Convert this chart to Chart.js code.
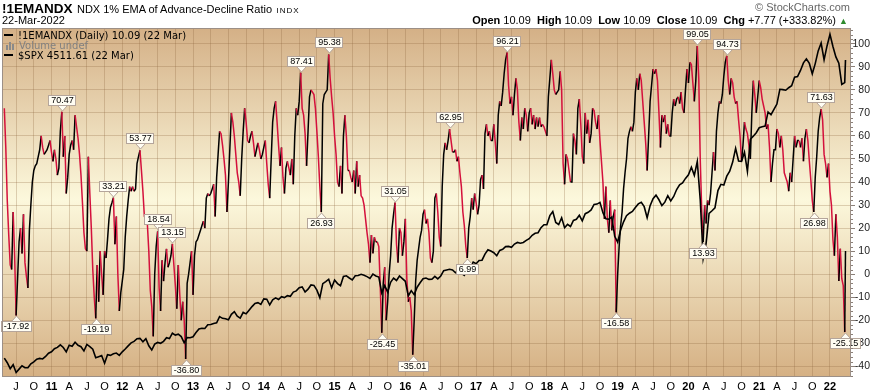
<!DOCTYPE html>
<html>
<head>
<meta charset="utf-8">
<script src="https://cdn.jsdelivr.net/npm/chart.js@4.4.1/dist/chart.umd.min.js"></script>
<style>
  body { margin: 0; background: #fff; }
  #wrap { position: relative; width: 876px; height: 392px; overflow: hidden; font-family: Arial, "Liberation Sans", sans-serif; }
  #chart { position: absolute; left: 0; top: 0; }
  .t { position: absolute; white-space: nowrap; color: #000; line-height: 1; }
  .lg { position: absolute; white-space: nowrap; font-family: "DejaVu Sans", Verdana, sans-serif; font-size: 10px; line-height: 10px; color: #000; }
  .dash { display: inline-block; width: 9px; height: 2px; background: #000; vertical-align: 3px; margin-right: 5px; }
  .vol { display: inline-block; width: 9px; height: 8px; margin-right: 4px; vertical-align: -1px; position: relative; }
  .vol i { position: absolute; bottom: 0; width: 2px; background: #8a8a8a; }
</style>
</head>
<body>
<div id="wrap">
  <canvas id="chart" width="876" height="392"></canvas>

  <div class="t" style="left:2px;top:0px"><b style="font-size:13.5px">!1EMANDX</b>&nbsp;<span style="font-size:11px">NDX 1% EMA of Advance-Decline Ratio</span>&nbsp;<span style="font-size:8px;letter-spacing:1px">INDX</span></div>
  <div class="t" style="left:2px;top:15px;font-size:11px">22-Mar-2022</div>
  <div class="t" style="right:26px;top:2px;font-size:11px;color:#666">&copy; StockCharts.com</div>
  <div class="t" style="right:28px;top:15px;font-size:11px"><b>Open</b> 10.09 &nbsp;<b>High</b> 10.09 &nbsp;<b>Low</b> 10.09 &nbsp;<b>Close</b> 10.09 &nbsp;<b>Chg</b> +7.77 (+333.82%) <span style="color:#2e8b2e;font-size:9px">&#9650;</span></div>

  <div class="lg" style="left:4px;top:31px"><span class="dash"></span>!1EMANDX (Daily) 10.09 (22 Mar)</div>
  <div class="lg" style="left:6px;top:41px;color:#808080"><span class="vol"><i style="left:0;height:5px"></i><i style="left:3px;height:8px"></i><i style="left:6px;height:6px"></i></span>Volume undef</div>
  <div class="lg" style="left:4px;top:51px"><span class="dash"></span>$SPX 4511.61 (22 Mar)</div>
</div>

<script>
// NDX 1% EMA of advance-decline ratio, 48 readings a year (about weekly)
// 2010 starts at slot 16 (1 May)
const ema2010 = [72, 55, 32, 17, 4, 2, 27, 8, -17.92, -2, 14, 20, 9, 26, 5, -1, -6, 19, 30, 40, 45, 47, 48, 51, 54, 60, 55, 52, 53, 54, 56, 58];
const ema2011 = [53, 49, 54, 50, 43, 46, 62, 70.47, 51, 60, 35, 42, 52, 56, 58, 54, 69, 64, 59, 52, 43, 31, 18, 11,
  10, 51, 35, 20, 2, -10, -19.19, 4, -12, 10, 0, -9, 10, 7, 15, 24, 29, 31, 33.21, 13, 25, 0, -16, -8];
const ema2012 = [-3, 2, 16, 25, 32, 38, 36, 38, 36, 37, 48, 51, 53.77, 45, 36, 25, 24, 22, 10, -7, -14, -27, 0, 12,
  18.54, -6, -16, 6, -3, 5, 11, 3, 5, 8, 13.15, 4, -5, -15, 4, -9, -20, -12, -20, -36.8, -4, 0, 5, 10];
const ema2013 = [-9, 8, 14, 15, 17, 19, 21, 23, 20, 33, 35, 34, 35, 37, 39, 25, 42, 52, 62, 61, 56, 50, 43, 27,
  40, 55, 70, 66, 60, 52, 44, 40, 34, 50, 62, 72, 66, 58, 57, 60, 62, 57, 51, 54, 57, 54, 50, 52];
const ema2014 = [55, 58, 48, 39, 33, 50, 66, 72, 75, 66, 56, 47, 55, 42, 35, 46, 49, 46, 43, 50, 39, 60, 72, 69,
  75, 87.41, 72, 69, 61, 47, 62, 77, 80, 79, 78, 72, 62, 51, 38, 26.93, 74, 78, 79, 80, 95.38, 85, 77, 70];
const ema2015 = [60, 52, 40, 38, 47, 35, 60, 69, 60, 45, 45, 42, 40, 45, 35, 49, 38, 43, 34, 33, 30, 24, 18, 13,
  5, 17, 9, 16, 14, 14, 12, -6, -25.45, -4, 3, -20, -12, 0, 8, 20, 26, 31.05, 13, 5, 20, 18, 8, 14];
const ema2016 = [24, -2, -12, -10, -16, -35.01, -20, -3, 6, 11, 16, 19, 26, 28, 22, 24, 18, 7, 5, 10, 33, 35, 27, 16,
  12, 38, 52, 57, 54, 58, 62.95, 58, 53, 53, 54, 49, 51, 44, 38, 27, 21, 12, 6.99, 20, 25, 33, 28, 35];
const ema2017 = [31, 26, 30, 41, 43, 37, 61, 65, 60, 62, 58, 58, 65, 57, 48, 69, 75, 73, 79, 87, 93, 96.21, 82, 74,
  77, 69, 78, 85, 80, 66, 58, 68, 63, 72, 69, 62, 70, 72, 65, 69, 63, 68, 64, 68, 64, 65, 64, 62];
const ema2018 = [60, 77, 85, 93, 87, 80, 78, 79, 80, 88, 80, 48, 39, 52, 50, 45, 40, 40, 61, 58, 52, 72, 76, 65,
  51, 48, 70, 61, 67, 57, 61, 72, 71, 66, 63, 69, 58, 49, 40, 24, 38, 24, 18, 32, 19, 25, 28, -16.58];
const ema2019 = [0, 12, 21, 27, 37, 44, 50, 59, 62, 64, 62, 66, 79, 85, 80, 87, 84, 75, 66, 57, 45, 60, 75, 82,
  89, 87, 89, 84, 70, 55, 69, 66, 69, 61, 65, 60, 60, 70, 76, 73, 76, 77, 74, 79, 72, 70, 80, 89];
const ema2020 = [83, 92, 91, 83, 75, 84, 99.05, 85, 50, 28, 13.93, 30, 22, 32, 30, 35, 44, 53, 45, 62, 70, 75, 74, 78,
  86, 92, 94.73, 84, 78, 85, 83, 77, 74, 75, 67, 60, 49, 56, 66, 63, 61, 56, 50, 70, 84, 78, 70, 77];
const ema2021 = [84, 81, 76, 73, 70, 63, 65, 55, 40, 48, 54, 54, 63, 61, 55, 60, 54, 44, 42, 40, 36, 44, 40, 50,
  60, 55, 58, 58, 55, 59, 49, 59, 63, 58, 49, 41, 32, 26.98, 42, 51, 62, 68, 71.63, 67, 52, 48, 42, 48];
const ema2022 = [36, 30, 15, 8, 26, 16, -3, 11, -2, -5, -25.15];

// S&P 500, two readings a month (1st and 16th); 2010 starts at slot 8 (1 May)
const spx2010 = [1187, 1136, 1070, 1114, 1027, 1065, 1102, 1080, 1080, 1125, 1146, 1176, 1184, 1178, 1206, 1242];
const spx2011 = [1258, 1293, 1307, 1336, 1306, 1257, 1332, 1319, 1364, 1330, 1315, 1267, 1340, 1316, 1287, 1192, 1204, 1216, 1131, 1225, 1218, 1236, 1244, 1219];
const spx2012 = [1258, 1289, 1324, 1358, 1374, 1404, 1408, 1370, 1405, 1325, 1278, 1343, 1362, 1353, 1375, 1415, 1406, 1465, 1444, 1454, 1428, 1359, 1416, 1414];
const spx2013 = [1426, 1472, 1513, 1520, 1518, 1560, 1562, 1574, 1582, 1650, 1631, 1626, 1614, 1676, 1706, 1655, 1633, 1697, 1681, 1721, 1762, 1798, 1806, 1786];
const spx2014 = [1848, 1845, 1782, 1838, 1859, 1841, 1872, 1862, 1884, 1877, 1924, 1937, 1973, 1981, 1925, 1956, 2003, 1998, 1946, 1862, 2018, 2041, 2067, 1973];
const spx2015 = [2059, 2019, 1995, 2097, 2105, 2081, 2060, 2106, 2108, 2122, 2111, 2096, 2077, 2124, 2104, 2092, 1914, 1996, 1923, 2033, 2079, 2053, 2103, 2073];
const spx2016 = [2044, 1880, 1940, 1895, 1978, 2027, 2072, 2081, 2065, 2066, 2099, 2071, 2103, 2162, 2170, 2178, 2171, 2139, 2168, 2133, 2111, 2177, 2191, 2258];
const spx2017 = [2239, 2275, 2279, 2347, 2396, 2381, 2363, 2329, 2388, 2400, 2431, 2433, 2423, 2459, 2477, 2468, 2477, 2500, 2519, 2557, 2579, 2585, 2642, 2675];
const spx2018 = [2674, 2776, 2822, 2700, 2677, 2752, 2641, 2678, 2655, 2722, 2735, 2780, 2718, 2798, 2813, 2840, 2901, 2905, 2924, 2809, 2740, 2736, 2760, 2546];
const spx2019 = [2480, 2616, 2707, 2775, 2803, 2822, 2867, 2907, 2924, 2876, 2752, 2887, 2964, 3004, 2953, 2888, 2926, 2998, 2940, 2990, 3067, 3120, 3141, 3191];
const spx2020 = [3231, 3316, 3226, 3380, 2954, 2300, 2470, 2800, 2830, 2864, 3055, 3125, 3116, 3216, 3271, 3373, 3526, 3385, 3380, 3483, 3270, 3627, 3662, 3701];
const spx2021 = [3756, 3768, 3774, 3932, 3901, 3962, 4020, 4185, 4181, 4174, 4202, 4224, 4320, 4327, 4395, 4479, 4524, 4473, 4357, 4471, 4613, 4700, 4513, 4668];
const spx2022 = [4797, 4662, 4546, 4475, 4240, 4260];

// last close, 22 Mar 2022
const lastDate = '2022-03-22';
const lastEma = 10.09;
const lastSpx = 4511.61;

const years = [2010, 2011, 2012, 2013, 2014, 2015, 2016, 2017, 2018, 2019, 2020, 2021, 2022];
const emaYears = [ema2010, ema2011, ema2012, ema2013, ema2014, ema2015, ema2016, ema2017, ema2018, ema2019, ema2020, ema2021, ema2022];
const spxYears = [spx2010, spx2011, spx2012, spx2013, spx2014, spx2015, spx2016, spx2017, spx2018, spx2019, spx2020, spx2021, spx2022];

// labelled highs and lows
const peakMarks = [70.47, 33.21, 53.77, 18.54, 13.15, 87.41, 95.38, 31.05, 62.95, 96.21, 99.05, 94.73, 71.63];
const troughMarks = [-17.92, -19.19, -36.8, 26.93, -25.45, -35.01, 6.99, -16.58, 13.93, 26.98, -25.15];

// axes
const xTickLabels = ['J','O','11','A','J','O','12','A','J','O','13','A','J','O','14','A','J','O','15','A','J','O','16','A',
  'J','O','17','A','J','O','18','A','J','O','19','A','J','O','20','A','J','O','21','A','J','O','22'];
const xFirstTick = 2010.5;
const yTicks = [-40, -30, -20, -10, 0, 10, 20, 30, 40, 50, 60, 70, 80, 90, 100];

const RED = '#d4103c';
const GRID = 'rgba(140, 100, 60, 0.28)';
const FRAME = '#9c8f86';
const NARROW = '"Liberation Sans Narrow", "Arial Narrow", Arial, sans-serif';

function toYear(s) {
  const d = new Date(s + 'T00:00:00Z');
  const y = d.getUTCFullYear();
  const a = Date.UTC(y, 0, 1), b = Date.UTC(y + 1, 0, 1);
  return y + (d - a) / (b - a);
}

function buildSeries(byYear, perYear, firstSlot) {
  const out = [];
  years.forEach((yr, j) => {
    const off = j === 0 ? firstSlot : 0;
    byYear[j].forEach((v, i) => out.push({ x: yr + (i + off) / perYear, y: v }));
  });
  return out;
}

const emaPoints = buildSeries(emaYears, 48, 16);
const spxPoints = buildSeries(spxYears, 24, 8);
emaPoints.push({ x: toYear(lastDate), y: lastEma });
spxPoints.push({ x: toYear(lastDate), y: lastSpx });

const bgPlugin = {
  id: 'bg',
  beforeDraw(chart) {
    const { ctx, chartArea: a } = chart;
    const g = ctx.createLinearGradient(0, a.top, 0, a.bottom);
    g.addColorStop(0, '#d4b086');
    g.addColorStop(0.49, '#fcf8dc');
    g.addColorStop(1, '#d5b083');
    ctx.save();
    ctx.fillStyle = g;
    ctx.fillRect(a.left, a.top, a.right - a.left, a.bottom - a.top);
    ctx.restore();
  },
  afterDraw(chart) {
    const { ctx, chartArea: a } = chart;
    const ys = chart.scales.y;
    ctx.save();
    ctx.strokeStyle = FRAME;
    ctx.lineWidth = 1;
    ctx.strokeRect(a.left + 0.5, a.top + 0.5, a.right - a.left - 1, a.bottom - a.top - 1);
    // minor ticks on the value axis
    ctx.strokeStyle = '#8a7f78';
    ctx.beginPath();
    for (let v = -44; v <= 106; v += 2) {
      if (v % 10 === 0) continue;
      const py = Math.round(ys.getPixelForValue(v)) + 0.5;
      ctx.moveTo(a.right, py);
      ctx.lineTo(a.right + 2, py);
    }
    ctx.stroke();
    ctx.restore();
  }
};

const calloutPlugin = {
  id: 'callouts',
  afterDatasetsDraw(chart) {
    const meta = chart.getDatasetMeta(1);
    const pts = chart.data.datasets[1].data;
    const c = chart.ctx;
    c.save();
    c.font = '9px Arial, "Liberation Sans", sans-serif';
    c.textAlign = 'center';
    c.textBaseline = 'middle';
    pts.forEach((p, i) => {
      const up = peakMarks.includes(p.y);
      const down = troughMarks.includes(p.y);
      if (!up && !down) return;
      const el = meta.data[i];
      const txt = p.y.toFixed(2);
      const w = Math.round(c.measureText(txt).width) + 5;
      const h = 11;
      const x = Math.round(el.x);
      const y = Math.round(el.y);
      const dir = up ? -1 : 1;
      const tip = y + dir * 1;
      const base = y + dir * 6;
      const top = up ? base - h : base;
      const left = Math.round(x - w / 2);
      c.fillStyle = '#fffdf3';
      c.strokeStyle = '#b4a59b';
      c.lineWidth = 1;
      c.fillRect(left, top, w, h);
      c.strokeRect(left + 0.5, top + 0.5, w - 1, h - 1);
      c.beginPath();
      c.moveTo(x - 4, base);
      c.lineTo(x + 0.5, tip);
      c.lineTo(x + 5, base);
      c.closePath();
      c.fill();
      c.beginPath();
      c.moveTo(x - 4, base);
      c.lineTo(x + 0.5, tip);
      c.lineTo(x + 5, base);
      c.stroke();
      c.fillStyle = '#000';
      c.fillText(txt, x + 0.5, top + h / 2 + 0.5);
    });
    c.restore();
  }
};

const chart = new Chart(document.getElementById('chart'), {
  type: 'line',
  data: {
    datasets: [{
      data: spxPoints,
      yAxisID: 'y2',
      borderColor: '#000',
      borderWidth: 1.6,
      pointRadius: 0,
      tension: 0,
      order: 0
    }, {
      data: emaPoints,
      yAxisID: 'y',
      borderColor: RED,
      borderWidth: 1.5,
      pointRadius: 0,
      tension: 0,
      order: 1,
      segment: {
        borderColor: c => c.p1.parsed.y < c.p0.parsed.y ? RED : '#000'
      }
    }]
  },
  options: {
    responsive: false,
    animation: false,
    layout: { padding: { top: 28, left: 2, right: 6, bottom: 0 } },
    plugins: {
      legend: { display: false },
      tooltip: { enabled: false }
    },
    scales: {
      x: {
        type: 'linear',
        min: 2010.3006,
        max: 2022.297,
        afterBuildTicks: s => { s.ticks = xTickLabels.map((l, i) => ({ value: xFirstTick + i * 0.25 })); },
        afterFit: s => { s.height = 15; },
        grid: { color: GRID, drawTicks: false },
        border: { display: false },
        ticks: {
          autoSkip: false,
          maxRotation: 0,
          padding: 3,
          color: '#000',
          font: c => ({ family: NARROW, size: 11, weight: /^\d/.test(xTickLabels[c.index] || '') ? 'bold' : 'normal' }),
          callback: (v, i) => xTickLabels[i]
        }
      },
      y: {
        position: 'right',
        min: -44.64,
        max: 106.86,
        afterBuildTicks: s => { s.ticks = yTicks.map(v => ({ value: v })); },
        afterFit: s => { s.width = 19; },
        grid: { color: GRID, tickLength: 4, tickColor: '#8a7f78' },
        border: { display: false },
        ticks: {
          crossAlign: 'far',
          padding: 2,
          color: '#222',
          font: { family: NARROW, size: 10.5 }
        }
      },
      y2: {
        display: false,
        min: 977,
        max: 4868
      }
    }
  },
  plugins: [bgPlugin, calloutPlugin]
});
</script>
</body>
</html>
